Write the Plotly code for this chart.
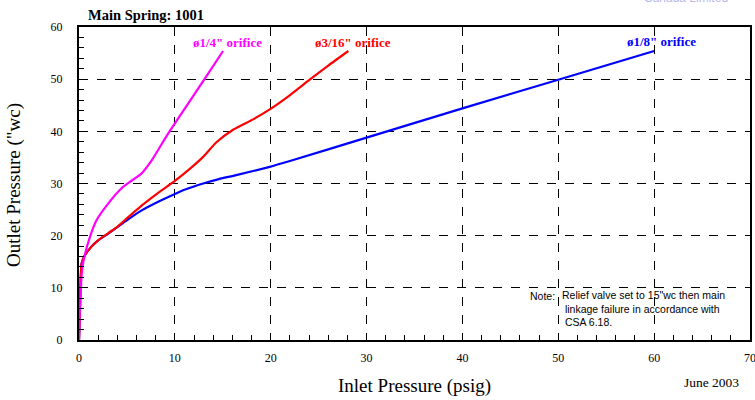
import plotly.graph_objects as go

# Data
blue_x = [0, 0.1, 0.28, 0.6, 1.3, 2.0, 3.06, 4.8, 6.5, 8.26, 10.0, 11.0, 12.95, 14.5, 16.4, 19.9, 22.0, 30.0, 40.0, 50.0, 60.0]
blue_y = [0, 6.0, 14.7, 16.2, 17.9, 19.1, 20.4, 22.7, 24.8, 26.5, 28.0, 28.8, 30.0, 30.8, 31.6, 33.2, 34.3, 38.8, 44.4, 49.9, 55.4]

red_x = [0, 0.1, 0.28, 0.6, 1.3, 2.0, 3.06, 4.0, 4.8, 6.5, 8.26, 10.0, 11.56, 12.95, 14.34, 16.07, 18.16, 19.9, 21.98, 24.0, 26.0, 28.1]
red_y = [0, 6.0, 14.7, 16.2, 17.9, 19.1, 20.5, 21.7, 23.0, 25.7, 28.2, 30.5, 32.8, 35.1, 37.9, 40.3, 42.3, 44.2, 46.9, 49.8, 52.6, 55.4]

mag_x = [0, 0.1, 0.3, 0.45, 1.15, 1.84, 3.06, 4.44, 5.3, 6.5, 7.6, 8.8, 9.48, 11.56, 13.3, 15.03]
mag_y = [0, 6.0, 13.0, 15.0, 19.8, 23.0, 26.2, 29.1, 30.3, 31.9, 34.5, 38.1, 40.1, 45.8, 50.6, 55.4]

labels = ["ø1/8\" orifice", "ø3/16\" orifice", "ø1/4\" orifice"]
label_x = [60.8, 28.6, 15.5]
label_y = [57.3, 57.1, 57.1]

x_ticks = [0, 10, 20, 30, 40, 50, 60, 70]
y_ticks = [0, 10, 20, 30, 40, 50, 60]

series = [
    (blue_x, blue_y, "#0000ff"),
    (red_x, red_y, "#ff0000"),
    (mag_x, mag_y, "#ff00ff"),
]

fig = go.Figure()
for xs, ys, col in series:
    fig.add_trace(go.Scatter(x=xs, y=ys, mode="lines",
                             line=dict(color=col, width=2.2, shape="spline", smoothing=0.6),
                             showlegend=False, hoverinfo="skip", cliponaxis=False))

serif = "Liberation Serif, Times New Roman, serif"

for t, lx, ly, (_, _, col) in zip(labels, label_x, label_y, series):
    fig.add_annotation(x=lx, y=ly, text="<b>" + t + "</b>", showarrow=False,
                       font=dict(family=serif, size=13, color=col),
                       xanchor="center", yanchor="middle")

# Title
fig.add_annotation(xref="paper", yref="paper", x=0.0104, y=1.038, text="<b>Main Spring: 1001</b>",
                   showarrow=False, xanchor="left", yanchor="middle",
                   font=dict(family=serif, size=14.5, color="black"))
# Axis titles
fig.add_annotation(xref="paper", yref="paper", x=-0.097, y=0.495, text="Outlet Pressure (\"wc)",
                   textangle=-90, showarrow=False, xanchor="center", yanchor="middle",
                   font=dict(family=serif, size=19, color="black"))
fig.add_annotation(xref="paper", yref="paper", x=0.5007, y=-0.147, text="Inlet Pressure (psig)",
                   showarrow=False, xanchor="center", yanchor="middle",
                   font=dict(family=serif, size=19, color="black"))
fig.add_annotation(xref="paper", yref="paper", x=0.942, y=-0.137, text="June 2003",
                   showarrow=False, xanchor="center", yanchor="middle",
                   font=dict(family=serif, size=13.5, color="black"))
# Note
sans = "Liberation Sans, Arial, sans-serif"
fig.add_annotation(xref="paper", yref="paper", x=(557 - 79) / 671, y=(340 - 296) / 313, text="Note:",
                   showarrow=False, xanchor="right", yanchor="middle",
                   font=dict(family=sans, size=10.5, color="black"))
fig.add_annotation(xref="paper", yref="paper", x=(560 - 79) / 671, y=(340 - 308) / 313,
                   text="Relief valve set to 15\"wc then main<br> linkage failure in accordance with<br> CSA 6.18.",
                   showarrow=False, xanchor="left", yanchor="middle", align="left",
                   font=dict(family=sans, size=10.5, color="black"))
# faint cut-off logo text at the top
fig.add_annotation(xref="paper", yref="paper", x=(686 - 79) / 671, y=(340 + 2) / 313,
                   text="Canada Limited", showarrow=False, xanchor="center", yanchor="middle",
                   font=dict(family=sans, size=12, color="#b8b8f0"))

axis_common = dict(
    showline=True, linecolor="black", linewidth=2, mirror=True,
    showgrid=True, gridcolor="black", gridwidth=1, griddash="dash",
    ticks="inside", ticklen=6, tickcolor="black", tickwidth=1,
    tickfont=dict(family=serif, size=12, color="black"),
    zeroline=False, automargin=False, ticklabeloverflow="allow",
)

fig.update_xaxes(range=[0, 70], tickvals=x_ticks, ticktext=[str(v) for v in x_ticks],
                 minor=dict(dtick=2, ticks="inside", ticklen=5, tickcolor="black", showgrid=False),
                 ticklabelstandoff=6, **axis_common)
fig.update_yaxes(range=[0, 60], tickvals=y_ticks, ticktext=[str(v) for v in y_ticks],
                 minor=dict(dtick=2, ticks="inside", ticklen=5, tickcolor="black", showgrid=False),
                 ticklabelstandoff=12, **axis_common)

fig.update_layout(
    width=755, height=400,
    margin=dict(l=79, r=5, t=27, b=60, autoexpand=False),
    paper_bgcolor="white", plot_bgcolor="white",
)

fig.write_html("out.html", config={"displayModeBar": False},
               post_script="document.body.style.margin='0';document.body.style.overflow='hidden';")
